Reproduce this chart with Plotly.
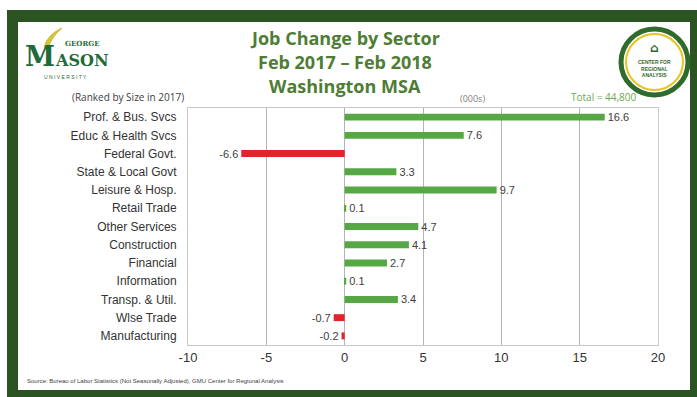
import plotly.graph_objects as go

categories = ["Prof. & Bus. Svcs", "Educ & Health Svcs", "Federal Govt.", "State & Local Govt",
              "Leisure & Hosp.", "Retail Trade", "Other Services", "Construction", "Financial",
              "Information", "Transp. & Util.", "Wlse Trade", "Manufacturing"]
values = [16.6, 7.6, -6.6, 3.3, 9.7, 0.1, 4.7, 4.1, 2.7, 0.1, 3.4, -0.7, -0.2]
x_ticks = [-10, -5, 0, 5, 10, 15, 20]

W, H = 697, 397
L, R, T, B = 188, 658, 108, 345

def px(x):
    return (x - L) / (R - L)

def py(y):
    return (B - y) / (B - T)

colors = ["#55a844" if v >= 0 else "#e0242a" for v in values]
labels = [f"{v:g}" for v in values]

fig = go.Figure(go.Bar(
    y=categories, x=values, orientation="h",
    marker=dict(color=colors, line=dict(width=0)),
    width=0.38,
    text=labels, textposition="outside", cliponaxis=False, constraintext="none",
    textfont=dict(family="Arial", size=11, color="#404040"),
))

shapes = [
    dict(type="rect", xref="paper", yref="paper", x0=px(7), x1=px(697), y0=py(397), y1=py(10),
         fillcolor="#2c5423", line=dict(width=0), layer="below"),
    dict(type="rect", xref="paper", yref="paper", x0=px(18), x1=px(690), y0=py(390), y1=py(22),
         fillcolor="white", line=dict(width=0), layer="below"),
    # left logo swoosh
    dict(type="path", xref="paper", yref="paper",
         path=f"M {px(44)},{py(47)} Q {px(48)},{py(34)} {px(62)},{py(28)} Q {px(52)},{py(36)} {px(48)},{py(48)} Z",
         fillcolor="#d8c53a", line=dict(color="#c9b52c", width=1)),
    # right logo rings
    dict(type="circle", xref="paper", yref="paper", x0=px(621), x1=px(688), y0=py(95), y1=py(29),
         line=dict(color="#2f6b2a", width=5), fillcolor="rgba(0,0,0,0)"),
    dict(type="circle", xref="paper", yref="paper", x0=px(626), x1=px(683), y0=py(90), y1=py(34),
         line=dict(color="#e5c51f", width=2), fillcolor="white"),
]

annotations = [
    dict(text="<b>Job Change by Sector</b>", x=px(345), y=py(38), font=dict(size=18, color="#4e7d34", family="Open Sans")),
    dict(text="<b>Feb 2017 – Feb 2018</b>", x=px(345), y=py(62), font=dict(size=18, color="#4e7d34", family="Open Sans")),
    dict(text="<b>Washington MSA</b>", x=px(345), y=py(86), font=dict(size=18, color="#4e7d34", family="Open Sans")),
    dict(text="(Ranked by Size in 2017)", x=px(128), y=py(97), font=dict(size=10, color="#404040", family="Open Sans")),
    dict(text="(000s)", x=px(472), y=py(98), font=dict(size=9, color="#808080", family="Open Sans")),
    dict(text="Total = 44,800", x=px(604), y=py(97), font=dict(size=10, color="#6aa84f", family="Open Sans")),
    dict(text="Source: Bureau of Labor Statistics (Not Seasonally Adjusted), GMU Center for Regional Analysis",
         x=px(25), y=py(381), xanchor="left", font=dict(size=6, color="#404040", family="Arial")),
    # left logo
    dict(text="<b>M</b>", x=px(40), y=py(56), font=dict(size=27, color="#1f6b3a", family="DejaVu Serif")),
    dict(text="<b>ASON</b>", x=px(53), y=py(60), xanchor="left", font=dict(size=16, color="#1f6b3a", family="DejaVu Serif")),
    dict(text="<b>GEORGE</b>", x=px(82), y=py(44), font=dict(size=7, color="#1f6b3a", family="DejaVu Serif")),
    dict(text="U N I V E R S I T Y", x=px(65), y=py(77), font=dict(size=5, color="#1f6b3a", family="Arial")),
    # right logo text
    dict(text="<b>⌂</b>", x=px(654), y=py(48), font=dict(size=12, color="#2f6b2a", family="DejaVu Sans")),
    dict(text="<b>CENTER FOR<br>REGIONAL<br>ANALYSIS</b>", x=px(654), y=py(68),
         font=dict(size=5, color="#2f6b2a", family="Arial")),
]
for a in annotations:
    a.setdefault("xref", "paper")
    a.setdefault("yref", "paper")
    a.setdefault("showarrow", False)
    a.setdefault("xanchor", "center")
    a.setdefault("yanchor", "middle")

fig.update_layout(
    width=W, height=H,
    margin=dict(l=L, r=W - R, t=T, b=H - B),
    paper_bgcolor="white",
    plot_bgcolor="#e6e6e6",
    showlegend=False,
    shapes=shapes,
    annotations=annotations,
    xaxis=dict(range=[-10, 20], tickvals=x_ticks, ticktext=[str(t) for t in x_ticks],
               showgrid=True, gridcolor="#b4b4b4", gridwidth=1, zeroline=False,
               showline=True, linecolor="#c8c8c8", mirror=True,
               tickfont=dict(family="Arial", size=13, color="#333333"), ticks=""),
    yaxis=dict(categoryorder="array", categoryarray=categories[::-1],
               showgrid=False, zeroline=False, showline=True, linecolor="#c8c8c8", mirror=True,
               tickfont=dict(family="Arial", size=12, color="#333333"), ticks="", ticklabelstandoff=8),
)

fig.write_html("out.html")
